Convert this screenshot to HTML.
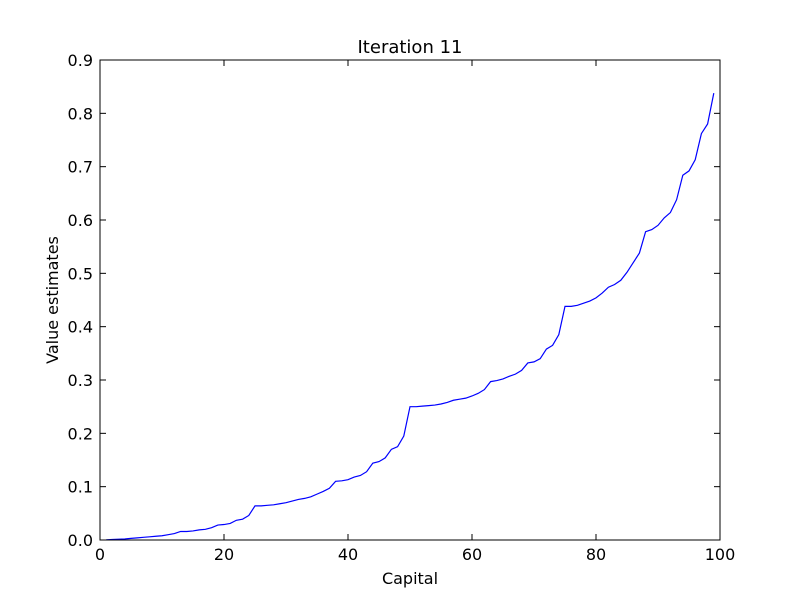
<!DOCTYPE html>
<html><head><meta charset="utf-8"><style>
body{margin:0;background:#fff;}
text{font-family:"DejaVu Sans","Liberation Sans",sans-serif;fill:#000;}
</style></head><body>
<svg id="chart" width="800" height="600">
<rect width="800" height="600" fill="#fff"/>
<text x="410" y="53" font-size="18" text-anchor="middle">Iteration 11</text>
<text x="410" y="584" font-size="16" text-anchor="middle">Capital</text>
<text x="58" y="300" font-size="16" text-anchor="middle" transform="rotate(-90 58 300)">Value estimates</text>
<g id="ticks"></g>
<path id="line" fill="none" stroke="#0000ff" stroke-width="1.2"/>
<rect x="100" y="60" width="620" height="480" fill="none" stroke="#000" stroke-width="1"/>
</svg>
<script>
const capitals = Array.from({length:99},(_,i)=>i+1);
const values = [0.0003,0.001,0.0015,0.002,0.003,0.004,0.005,0.006,0.007,0.008,0.010,0.012,0.016,0.016,0.017,0.019,0.020,0.023,0.028,0.029,0.031,0.037,0.039,0.046,0.064,0.064,0.065,0.066,0.068,0.070,0.073,0.076,0.078,0.081,0.086,0.091,0.097,0.110,0.111,0.113,0.118,0.121,0.128,0.144,0.147,0.154,0.170,0.175,0.195,0.250,
0.250,0.251,0.252,0.253,0.255,0.258,0.262,0.264,0.266,0.270,0.275,0.282,0.297,0.299,0.302,0.307,0.311,0.318,0.332,0.334,0.340,0.358,0.365,0.385,0.438,0.438,0.440,0.444,0.448,0.454,0.463,0.474,0.479,0.487,0.502,0.520,0.538,0.578,0.582,0.590,0.604,0.614,0.638,0.684,0.692,0.713,0.762,0.780,0.838];
const xTicks = [0,20,40,60,80,100];
const yTicks = [0,0.1,0.2,0.3,0.4,0.5,0.6,0.7,0.8,0.9];
const xs = v => 100 + v/100*620;
const ys = v => 540 - v/0.9*480;
const NS='http://www.w3.org/2000/svg';
const g=document.getElementById('ticks');
function mk(tag,attrs){const e=document.createElementNS(NS,tag);for(const k in attrs)e.setAttribute(k,attrs[k]);g.appendChild(e);return e;}
xTicks.forEach(t=>{
  const x=xs(t);
  const a=mk('line',{x1:x,x2:x,y1:540,y2:534,stroke:'#000'});
  
  
  const b=mk('line',{x1:x,x2:x,y1:60,y2:66,stroke:'#000'});
  
  
  const l=mk('text',{x:x,y:560,'font-size':16,'text-anchor':'middle'});
  l.textContent=t;
  
  
});
yTicks.forEach(t=>{
  const y=ys(t);
  const a=mk('line',{x1:100,x2:106,y1:y,y2:y,stroke:'#000'});
  
  
  const b=mk('line',{x1:720,x2:714,y1:y,y2:y,stroke:'#000'});
  
  
  const l=mk('text',{x:93,y:y+6,'font-size':16,'text-anchor':'end'});
  l.textContent=t.toFixed(1);
  
  
});
document.getElementById('line').setAttribute('d',capitals.map((c,i)=>(i?'L':'M')+xs(c).toFixed(2)+' '+ys(values[i]).toFixed(2)).join(' '));
</script>
</body></html>
